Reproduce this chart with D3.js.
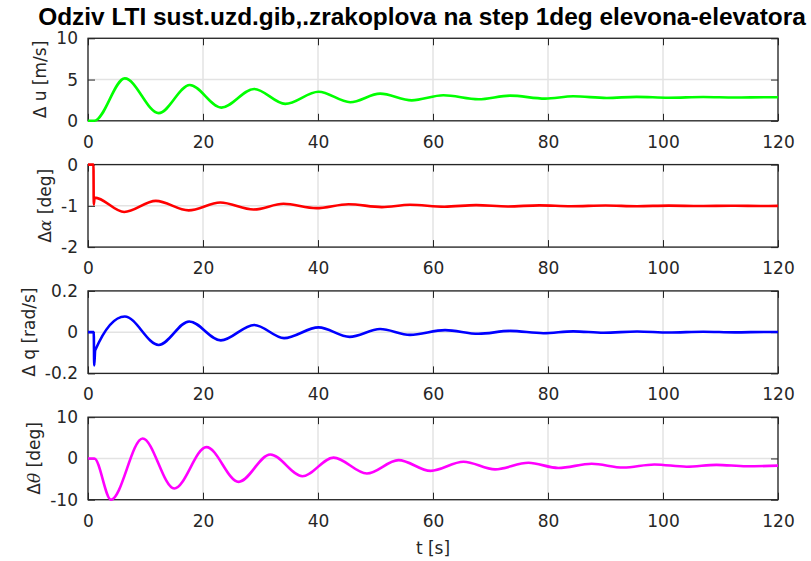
<!DOCTYPE html>
<html>
<head>
<meta charset="utf-8">
<script src="https://cdn.jsdelivr.net/npm/d3@7"></script>
<style>
body { margin: 0; background: #fff; }
</style>
</head>
<body>
<div class="chart"></div>
<script>
var titleText = "Odziv LTI sust.uzd.gib,.zrakoplova na step 1deg elevona-elevatora";
var xLabel = "t [s]";
var xTicks = [0, 20, 40, 60, 80, 100, 120];

// delta u [m/s]
var uTime = [0, 1.1, 6.4, 12.3, 17.7, 23.2, 28.9, 34.3, 40.1, 45.6, 50.8, 56.3, 61.8, 67.9, 73.4, 79.5, 84.4, 90.2, 95.4, 101, 107, 112.5, 118, 120];
var uVals = [0, 0, 5.14, 0.93, 4.34, 1.6, 3.86, 2.05, 3.53, 2.25, 3.29, 2.48, 3.09, 2.61, 3.05, 2.69, 2.97, 2.77, 2.9, 2.8, 2.88, 2.82, 2.86, 2.85];
var uTicks = [0, 5, 10];

// delta alpha [deg]
var alphaTime = [0, 0.95, 1.0, 1.15, 6.3, 11.8, 17.5, 23, 28.8, 34, 39.7, 45.3, 51.1, 56, 62, 67.5, 73, 78.5, 84, 90, 95.5, 101, 106.5, 112, 117.5, 120];
var alphaVals = [0, 0, -0.97, -0.8, -1.15, -0.88, -1.11, -0.92, -1.09, -0.95, -1.056, -0.96, -1.03, -0.975, -1.02, -0.983, -1.015, -0.988, -1.01, -0.992, -1.008, -0.995, -1.005, -0.997, -1.003, -1.0];
var alphaTicks = [-2, -1, 0];

// delta q [rad/s]
var qTime = [0, 1.0, 1.08, 1.25, 6.4, 12.3, 17.6, 23.1, 28.9, 34.1, 40.1, 45.5, 50.8, 56, 62.1, 67.9, 73.4, 79.2, 84.4, 89.7, 95.5, 101, 107, 112.5, 118, 120];
var qVals = [0, 0, -0.162, -0.088, 0.076, -0.062, 0.052, -0.04, 0.035, -0.029, 0.023, -0.023, 0.015, -0.013, 0.01, -0.008, 0.006, -0.005, 0.004, -0.003, 0.003, -0.002, 0.002, -0.001, 0.001, 0.001];
var qTicks = [-0.2, 0, 0.2];

// delta theta [deg]
var thetaTime = [0, 1.1, 4.0, 9.5, 15, 20.6, 26.2, 31.7, 37.3, 42.7, 48.5, 54, 59.6, 65.3, 70.8, 76.6, 81.8, 87.6, 93.1, 98.5, 104.1, 109.3, 114.5, 120];
var thetaVals = [0, 0, -10, 4.85, -7.3, 2.75, -5.67, 0.97, -4.3, 0.2, -3.64, -0.4, -3.0, -0.8, -2.65, -1.06, -2.3, -1.3, -2.2, -1.45, -2.0, -1.55, -1.9, -1.75];
var thetaTicks = [-10, 0, 10];

var panels = [
    { time: uTime, vals: uVals, ticks: uTicks, color: "#00ff00",
      label: [["\u0394 u [m/s]", false]] },
    { time: alphaTime, vals: alphaVals, ticks: alphaTicks, color: "#ff0000",
      label: [["\u0394", false], ["\u03b1", true], [" [deg]", false]] },
    { time: qTime, vals: qVals, ticks: qTicks, color: "#0000ff",
      label: [["\u0394 q [rad/s]", false]] },
    { time: thetaTime, vals: thetaVals, ticks: thetaTicks, color: "#ff00ff",
      label: [["\u0394", false], ["\u03b8", true], [" [deg]", false]] }
];

var width = 811, height = 561;
var left = 88, right = 778;
var firstTop = 38.3, step = 126.3, plotH = 82.5;
var axisColor = "#262626";
var font = "DejaVu Sans";

var svg = d3.select(".chart").append("svg")
    .attr("width", width)
    .attr("height", height);

var x = d3.scaleLinear().domain([0, 120]).range([left, right]);

var styleAxis = function (g) {
    g.select(".domain").remove();
    g.attr("font-family", font).attr("font-size", 17);
    g.selectAll("line").attr("stroke", axisColor).attr("stroke-width", 1);
    g.selectAll("text").attr("fill", axisColor);
};

panels.forEach(function (p, i) {
    var top = firstTop + i * step;
    var bottom = top + plotH;
    var y = d3.scaleLinear()
        .domain([p.ticks[0], p.ticks[p.ticks.length - 1]])
        .range([bottom, top]);
    var g = svg.append("g");

    // grid
    g.selectAll(".vgrid").data(xTicks).enter().append("line")
        .attr("x1", function (d) { return x(d); })
        .attr("x2", function (d) { return x(d); })
        .attr("y1", top).attr("y2", bottom)
        .attr("stroke", "#e3e3e3").attr("stroke-width", 1.5);
    g.selectAll(".hgrid").data(p.ticks).enter().append("line")
        .attr("x1", left).attr("x2", right)
        .attr("y1", function (d) { return y(d); })
        .attr("y2", function (d) { return y(d); })
        .attr("stroke", "#e3e3e3").attr("stroke-width", 1.5);

    // ticks inward on all four sides
    g.append("g").attr("transform", "translate(0," + bottom + ")")
        .call(d3.axisBottom(x).tickValues(xTicks).tickSizeInner(-7).tickSizeOuter(0)
            .tickPadding(15).tickFormat(function (d) { return String(d); }))
        .call(styleAxis);
    g.append("g").attr("transform", "translate(0," + top + ")")
        .call(d3.axisTop(x).tickValues(xTicks).tickSizeInner(-7).tickSizeOuter(0).tickFormat(""))
        .call(styleAxis);
    var yAxis = g.append("g").attr("transform", "translate(" + left + ",0)")
        .call(d3.axisLeft(y).tickValues(p.ticks).tickSizeInner(-7).tickSizeOuter(0)
            .tickPadding(10).tickFormat(function (d) { return String(d); }))
        .call(styleAxis);
    g.append("g").attr("transform", "translate(" + right + ",0)")
        .call(d3.axisRight(y).tickValues(p.ticks).tickSizeInner(-7).tickSizeOuter(0).tickFormat(""))
        .call(styleAxis);

    // box
    g.append("rect")
        .attr("x", left).attr("y", top)
        .attr("width", right - left).attr("height", bottom - top)
        .attr("fill", "none").attr("stroke", axisColor).attr("stroke-width", 1.3);

    // y label, placed left of the widest tick label
    var minX = d3.min(yAxis.selectAll("text").nodes(), function (n) {
        return n.getBBox().x;
    });
    var lab = g.append("text")
        .attr("transform", "translate(" + (left + minX - 16) + "," + ((top + bottom) / 2) + ") rotate(-90)")
        .attr("text-anchor", "middle")
        .attr("dy", "0.35em")
        .attr("font-family", font)
        .attr("font-size", 17)
        .attr("fill", axisColor);
    lab.selectAll("tspan").data(p.label).enter().append("tspan")
        .attr("font-family", function (d) { return d[1] ? "DejaVu Serif" : font; })
        .attr("font-style", function (d) { return d[1] ? "italic" : "normal"; })
        .text(function (d) { return d[0]; });

    // curve
    var line = d3.line()
        .x(function (d) { return x(d[0]); })
        .y(function (d) { return y(d[1]); })
        .curve(d3.curveMonotoneX);
    g.append("path")
        .datum(d3.zip(p.time, p.vals))
        .attr("d", line)
        .attr("fill", "none")
        .attr("stroke", p.color)
        .attr("stroke-width", 2.6)
        .attr("stroke-linejoin", "round");
});

// x label
svg.append("text")
    .attr("x", (left + right) / 2)
    .attr("y", 554)
    .attr("text-anchor", "middle")
    .attr("font-family", font)
    .attr("font-size", 17)
    .attr("fill", axisColor)
    .text(xLabel);

// title, sized to span the same width as the original
var title = svg.append("text")
    .attr("text-anchor", "middle")
    .attr("font-family", "Liberation Sans")
    .attr("font-weight", "bold")
    .attr("font-size", 20)
    .attr("fill", "#000")
    .text(titleText);
var tw = title.node().getComputedTextLength();
var fs = 20 * 768 / tw;
title.attr("font-size", fs)
    .attr("x", 38 + 768 / 2)
    .attr("y", 25);
</script>
</body>
</html>
